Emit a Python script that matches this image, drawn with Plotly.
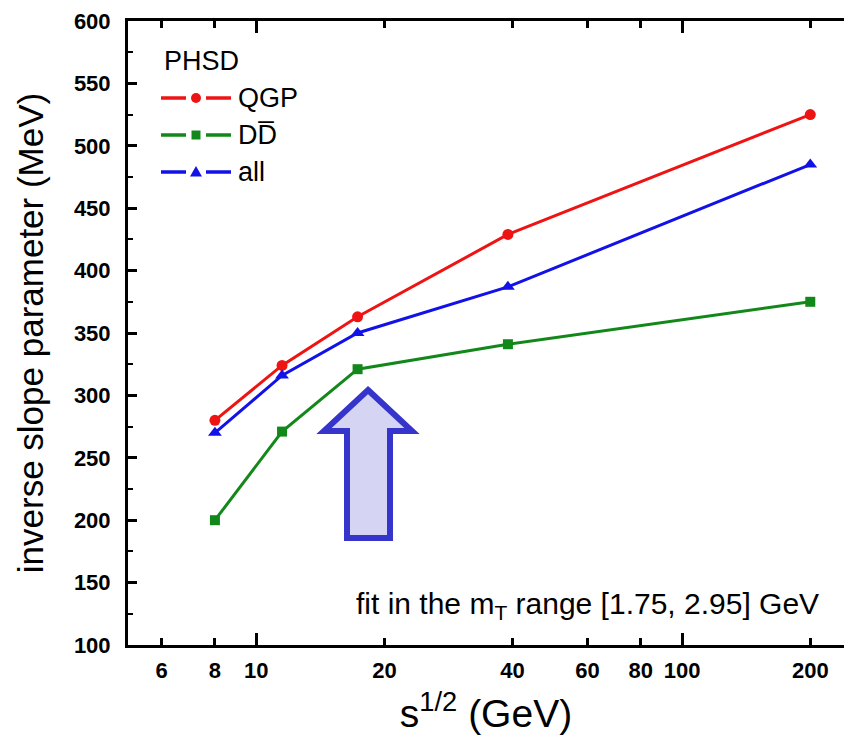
import math
import plotly.graph_objects as go

# Inverse slope parameters from PHSD vs. collision energy
energy = [8, 11.5, 17.3, 39, 200]          # sqrt(s) in GeV
t_qgp = [280, 324, 363, 429, 525]          # MeV
t_ddbar = [200, 271, 321, 341, 375]        # MeV
t_all = [270, 316, 350, 387, 485]          # MeV

x_ticks = [6, 8, 10, 20, 40, 60, 80, 100, 200]
x_long_ticks = [10, 100]
y_ticks = list(range(100, 601, 50))
y_minor = list(range(125, 600, 50))

series_names = ["QGP", "DD\u0305", "all"]

RED = "#ee1414"
GREEN = "#13881a"
BLUE = "#1212e8"

W, H = 844, 742
L, R, T, B = 128, 0, 21, 97
PW, PH = W - L - R, H - T - B


def fx(p):
    """pixel x -> paper x"""
    return (p - L) / PW


def fy(p):
    """pixel y -> paper y"""
    return (H - B - p) / PH


fig = go.Figure()

styles = [
    (t_qgp, RED, "circle", 11),
    (t_ddbar, GREEN, "square", 10),
    (t_all, BLUE, "triangle-up", 12),
]
for vals, col, sym, size in styles:
    fig.add_trace(go.Scatter(
        x=energy, y=vals, mode="lines+markers",
        line=dict(color=col, width=3),
        marker=dict(symbol=sym, size=size, color=col, line=dict(width=0)),
        showlegend=False, hoverinfo="skip",
    ))

# helper trace so the long-tick overlay axis is drawn
fig.add_trace(go.Scatter(x=[], y=[], xaxis="x2", showlegend=False))

tick_font = dict(family="Liberation Sans Narrow, Arial", size=22, color="black", weight="bold")
xr = [math.log10(5.0), math.log10(240)]

fig.update_layout(
    width=W, height=H,
    margin=dict(l=L, r=R, t=T, b=B, pad=0),
    paper_bgcolor="white", plot_bgcolor="white",
    font=dict(family="Arial", color="black"),
    xaxis=dict(
        type="log", range=xr, automargin=False,
        tickvals=x_ticks, ticktext=[str(v) for v in x_ticks],
        ticks="inside", ticklen=7, tickwidth=2.5, tickcolor="black",
        showline=True, linewidth=3, linecolor="black", mirror="ticks",
        showgrid=False, zeroline=False,
        tickfont=tick_font, ticklabelstandoff=4,
        title=dict(text="s<sup>1/2</sup> (GeV)", font=dict(size=39), standoff=18),
    ),
    xaxis2=dict(
        type="log", range=xr, overlaying="x", anchor="y", automargin=False,
        tickvals=x_long_ticks, ticks="inside", ticklen=12, tickwidth=2.5,
        tickcolor="black", showticklabels=False,
        showline=True, linewidth=3, linecolor="black", mirror="ticks",
        showgrid=False, zeroline=False,
    ),
    yaxis=dict(
        range=[100, 600], tickvals=y_ticks, automargin=False,
        ticks="inside", ticklen=9, tickwidth=2.5, tickcolor="black",
        minor=dict(tickvals=y_minor, ticks="inside", ticklen=5, tickwidth=2, tickcolor="black"),
        showline=True, linewidth=3, linecolor="black", mirror=False,
        showgrid=False, zeroline=False,
        tickfont=tick_font, ticklabelstandoff=10,
        title=dict(text="inverse slope parameter (MeV)", font=dict(size=35), standoff=20),
    ),
)

# Hand-drawn legend block
shapes = []
annotations = []
annotations.append(dict(
    x=fx(162), y=fy(61), xref="paper", yref="paper", xanchor="left", yanchor="middle",
    text="PHSD", showarrow=False, font=dict(size=27, color="black"),
))
rows = [98, 135, 172]
for (vals, col, sym, size), name, ry in zip(styles, series_names, rows):
    for a, b in [(161, 186), (206, 231)]:
        shapes.append(dict(type="line", xref="paper", yref="paper",
                           x0=fx(a), x1=fx(b), y0=fy(ry), y1=fy(ry),
                           line=dict(color=col, width=3.5)))
    cx = 196
    if sym == "circle":
        r = 5
        shapes.append(dict(type="circle", xref="paper", yref="paper",
                           x0=fx(cx - r), x1=fx(cx + r), y0=fy(ry + r), y1=fy(ry - r),
                           fillcolor=col, line=dict(width=0)))
    elif sym == "square":
        r = 4.5
        shapes.append(dict(type="rect", xref="paper", yref="paper",
                           x0=fx(cx - r), x1=fx(cx + r), y0=fy(ry + r), y1=fy(ry - r),
                           fillcolor=col, line=dict(width=0)))
    else:
        path = "M {:.5f} {:.5f} L {:.5f} {:.5f} L {:.5f} {:.5f} Z".format(
            fx(cx), fy(ry - 6), fx(cx + 6), fy(ry + 4.5), fx(cx - 6), fy(ry + 4.5))
        shapes.append(dict(type="path", xref="paper", yref="paper", path=path,
                           fillcolor=col, line=dict(width=0)))
    annotations.append(dict(
        x=fx(236), y=fy(ry), xref="paper", yref="paper", xanchor="left", yanchor="middle",
        text=name, showarrow=False, font=dict(size=27, color="black"),
    ))

# Block arrow pointing at the 17.3 GeV point
arrow_px = [(368, 390), (412, 431), (390, 431), (390, 538),
            (347, 538), (347, 431), (324, 431)]
arrow_path = "M " + " L ".join("{:.5f} {:.5f}".format(fx(a), fy(b)) for a, b in arrow_px) + " Z"
shapes.append(dict(type="path", xref="paper", yref="paper", path=arrow_path,
                   fillcolor="#d5d5f3", line=dict(color="#3535cc", width=6),
                   layer="above"))

annotations.append(dict(
    x=fx(821), y=fy(605), xref="paper", yref="paper", xanchor="right", yanchor="middle",
    text="fit in the m<sub>T</sub> range [1.75, 2.95] GeV", showarrow=False,
    font=dict(size=30, color="black"),
))

fig.update_layout(shapes=shapes, annotations=annotations)

fig.write_html("out.html")
